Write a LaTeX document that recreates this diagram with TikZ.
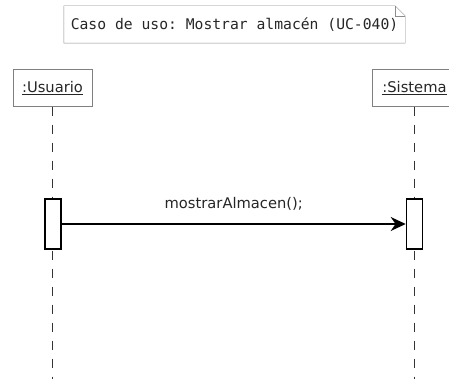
\documentclass[tikz,border=0pt]{standalone}
\usepackage{fontspec}
\setmainfont{DejaVu Sans}
\setmonofont{DejaVu Sans Mono}
\usepackage{tikz}
\usetikzlibrary{arrows.meta,positioning,calc}

\tikzset{
    actor/.style={draw=black!50, fill=white, minimum width=79pt, minimum height=37pt,
        inner sep=0pt, font=\fontsize{14.7}{17}\selectfont, text=black!85},
    actbox/.style={draw=black, line width=1.6pt, fill=white, minimum width=16pt,
        minimum height=50pt, inner sep=0pt},
    lifeline/.style={black!80, line width=1pt, dash pattern=on 9pt off 9pt},
    msg/.style={-{Stealth[length=15pt,width=14pt]}, line width=1.6pt}
}

\begin{document}
\begin{tikzpicture}[x=1pt,y=-1pt]
    \clip (0,0) rectangle (449,379);

    % Note with folded corner
    \node[minimum width=341pt, minimum height=37pt, inner sep=0pt,
        font=\ttfamily\fontsize{14.7}{17}\selectfont, text=black!85] (note) at (234.5,24.5)
        {Caso de uso: Mostrar almacén (UC-040)};
    \draw[black!45] (note.north west) -- ($(note.north east)+(-10,0)$)
        -- ($(note.north east)+(0,10)$) -- (note.south east) -- (note.south west) -- cycle;
    \draw[black!45] ($(note.north east)+(-10,0)$) -- ($(note.north east)+(-10,10)$)
        -- ($(note.north east)+(0,10)$);

    % Participants
    \node[actor] (usuario) at (52.5,88) {\underline{:Usuario}};
    \node[actor, minimum width=84pt] (sistema) at (414.5,88) {\underline{:Sistema}};

    % Lifelines
    \coordinate (endU) at (52.5,379);
    \coordinate (endS) at (414.5,379);
    \draw[lifeline] (usuario.south) -- (endU);
    \draw[lifeline] (sistema.south) -- (endS);

    % Activations
    \node[actbox] (actU) at (53,224) {};
    \node[actbox] (actS) at (414.5,224) {};

    % Message
    \draw[msg] (actU.east) -- (actS.west)
        node[midway, above=9pt, font=\fontsize{14.7}{17}\selectfont, text=black!85] (lbl) {mostrarAlmacen();};
\end{tikzpicture}
\end{document}
